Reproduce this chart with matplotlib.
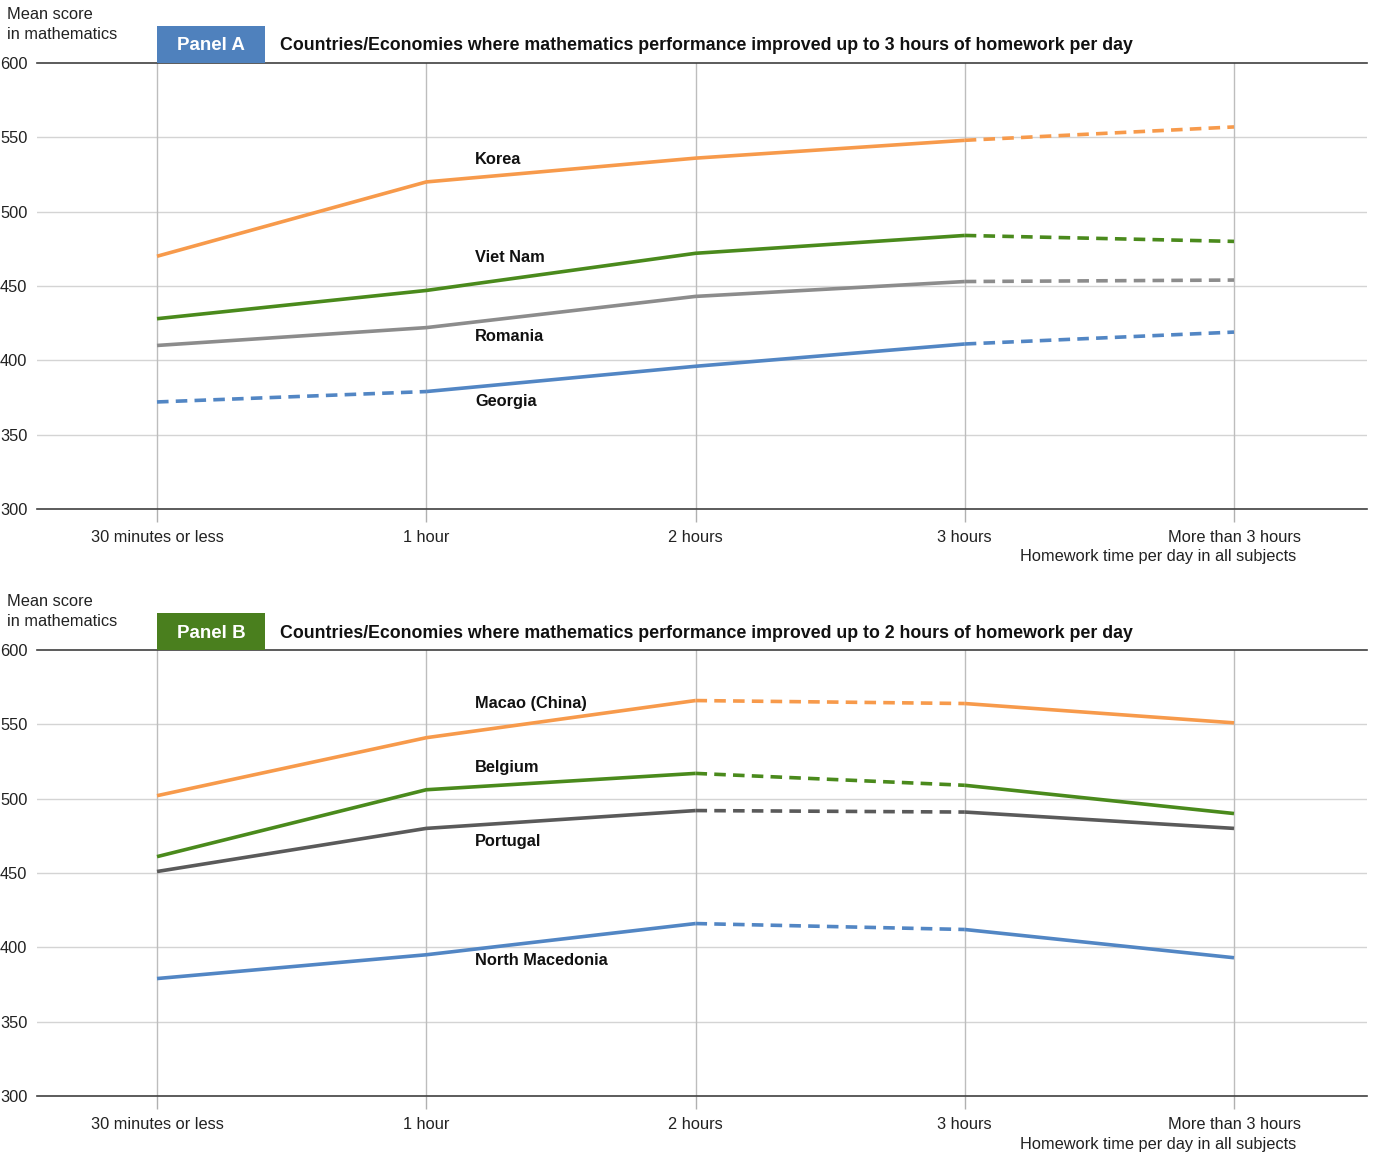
import matplotlib
matplotlib.use("Agg")
import matplotlib.pyplot as plt
from matplotlib.patches import Rectangle
from matplotlib import font_manager

names = {f.name for f in font_manager.fontManager.ttflist}
FONT = ['Liberation Sans Narrow', 'Liberation Sans', 'DejaVu Sans']
plt.rcParams['font.family'] = [f for f in FONT if f in names] or ['DejaVu Sans']

categories = ["30 minutes or less", "1 hour", "2 hours", "3 hours", "More than 3 hours"]
yticks = [300, 350, 400, 450, 500, 550, 600]

# Panel A
a_names = ["Korea", "Viet Nam", "Romania", "Georgia"]
a_korea = [470, 520, 536, 548, 557]
a_vietnam = [428, 447, 472, 484, 480]
a_romania = [410, 422, 443, 453, 454]
a_georgia = [372, 379, 396, 411, 419]
# dashed flags per segment (segment i joins category i and i+1)
a_korea_dash = [False, False, False, True]
a_vietnam_dash = [False, False, False, True]
a_romania_dash = [False, False, False, True]
a_georgia_dash = [True, False, False, True]

# Panel B
b_names = ["Macao (China)", "Belgium", "Portugal", "North Macedonia"]
b_macao = [502, 541, 566, 564, 551]
b_belgium = [461, 506, 517, 509, 490]
b_portugal = [451, 480, 492, 491, 480]
b_nmacedonia = [379, 395, 416, 412, 393]
b_macao_dash = [False, False, True, False]
b_belgium_dash = [False, False, True, False]
b_portugal_dash = [False, False, True, False]
b_nmacedonia_dash = [False, False, True, False]

ORANGE = "#F79A4B"
GREEN = "#4A8A1C"
GRAY = "#8C8C8C"
DARKGRAY = "#5A5A5A"
BLUE = "#5286C4"

W, H = 1375, 1159
fig = plt.figure(figsize=(W / 100, H / 100), dpi=100)

TXT = 11.8

def fx(px):
    return px / W

def fy(py):
    return 1 - py / H

def draw_series(ax, vals, dash, color):
    i = 0
    n = len(dash)
    while i < n:
        j = i
        while j + 1 < n and dash[j + 1] == dash[i]:
            j += 1
        xs = list(range(i, j + 2))
        ys = vals[i:j + 2]
        if dash[i]:
            ax.plot(xs, ys, color=color, lw=2.6, ls=(0, (3.2, 2.0)),
                    dash_capstyle='butt', zorder=3)
        else:
            ax.plot(xs, ys, color=color, lw=2.6, solid_capstyle='butt',
                    solid_joinstyle='round', zorder=3)
        i = j + 1

def make_panel(top_px, series, labels, label_y, panel_text, panel_color, title):
    bottom_px = top_px + 446
    left_px, right_px = 37, 1367
    ax = fig.add_axes([fx(left_px), fy(bottom_px), (right_px - left_px) / W,
                       (bottom_px - top_px) / H])
    x0, step = 157, 269.25
    ax.set_xlim((left_px - x0) / step, (right_px - x0) / step)
    ax.set_ylim(300, 600)
    for s in ['left', 'right']:
        ax.spines[s].set_visible(False)
    for s in ['top', 'bottom']:
        ax.spines[s].set_color('#404040')
        ax.spines[s].set_linewidth(1.2)
    ax.set_yticks(yticks)
    ax.set_yticklabels([str(v) for v in yticks], fontsize=TXT, color='#222222')
    ax.tick_params(axis='y', length=0, pad=7)
    ax.set_xticks(range(len(categories)))
    ax.set_xticklabels(categories, fontsize=TXT, color='#222222')
    ax.tick_params(axis='x', length=9, color='#B0B0B0', width=1, pad=6)
    for v in yticks[1:-1]:
        ax.axhline(v, color='#D4D4D4', lw=1, zorder=1)
    for i in range(len(categories)):
        ax.axvline(i, color='#BDBDBD', lw=1, zorder=1)
    for vals, dash, color in series:
        draw_series(ax, vals, dash, color)
    for name, ly in zip(labels, label_y):
        ax.text(1.181, ly, name, fontsize=11.8, fontweight='bold', va='center',
                ha='left', color='#111111', zorder=4)
    fig.text(fx(7), fy(top_px - 56), "Mean score\nin mathematics", fontsize=TXT,
             va='top', ha='left', color='#222222', linespacing=1.45)
    fig.text(fx(1296), fy(bottom_px + 48), "Homework time per day in all subjects",
             fontsize=TXT, va='center', ha='right', color='#222222')
    fig.patches.append(Rectangle((fx(157), fy(top_px)), fx(265) - fx(157),
                                 fy(top_px - 37) - fy(top_px),
                                 transform=fig.transFigure, facecolor=panel_color,
                                 edgecolor='none', zorder=5))
    fig.text(fx(211), fy(top_px - 17), panel_text, color='white', fontsize=13.5,
             fontweight='bold', ha='center', va='center', zorder=6)
    fig.text(fx(280), fy(top_px - 17), title, color='#111111', fontsize=12.8,
             fontweight='bold', ha='left', va='center')
    return ax

make_panel(63,
           [(a_korea, a_korea_dash, ORANGE),
            (a_vietnam, a_vietnam_dash, GREEN),
            (a_romania, a_romania_dash, GRAY),
            (a_georgia, a_georgia_dash, BLUE)],
           a_names, [535, 469, 416, 372], "Panel A", "#4F81BD",
           "Countries/Economies where mathematics performance improved up to 3 hours of homework per day")

make_panel(650,
           [(b_macao, b_macao_dash, ORANGE),
            (b_belgium, b_belgium_dash, GREEN),
            (b_portugal, b_portugal_dash, DARKGRAY),
            (b_nmacedonia, b_nmacedonia_dash, BLUE)],
           b_names, [564, 521, 471, 391], "Panel B", "#4A7F1E",
           "Countries/Economies where mathematics performance improved up to 2 hours of homework per day")

fig.savefig("out.png", dpi=100)
